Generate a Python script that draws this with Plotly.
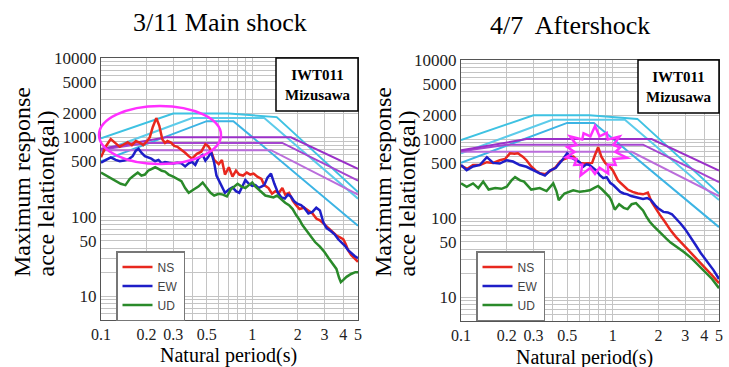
import math
import plotly.graph_objects as go

W, H = 729, 367

# ---------------- data ----------------
# Left panel: 3/11 Main shock
ms_ns_T = [0.1, 0.108, 0.116, 0.125, 0.133, 0.142, 0.15, 0.16, 0.17, 0.18, 0.19, 0.2, 0.21, 0.22, 0.232, 0.243,
           0.254, 0.265, 0.275, 0.29, 0.305, 0.32, 0.34, 0.36, 0.38, 0.4, 0.43, 0.46, 0.49, 0.51, 0.53, 0.56, 0.6,
           0.63, 0.66, 0.7, 0.74, 0.78, 0.82, 0.87, 0.92, 0.97, 1.02, 1.08, 1.15, 1.2, 1.28, 1.35, 1.42, 1.5, 1.58,
           1.65, 1.75, 1.85, 1.95, 2.05, 2.2, 2.35, 2.5, 2.65, 2.8, 3.0, 3.2, 3.4, 3.6, 3.8, 4.0, 4.15, 4.3, 4.5,
           4.75, 5.0]
ms_ns_v = [560, 780, 950, 830, 760, 820, 870, 800, 900, 860, 800, 880, 1000, 1350, 1750, 1400,
           950, 850, 900, 860, 780, 760, 700, 640, 580, 540, 620, 660, 820, 780, 700, 520, 460,
           520, 340, 420, 320, 380, 340, 330, 360, 340, 350, 320, 300, 250, 230, 195, 210, 200, 230,
           190, 200, 160, 140, 125, 130, 120, 110, 95, 90, 80, 72, 65, 58, 55, 52, 45, 38, 33,
           30, 27]

ms_ew_T = [0.1, 0.108, 0.116, 0.125, 0.133, 0.142, 0.152, 0.162, 0.17, 0.177, 0.185, 0.195, 0.205, 0.215, 0.228,
           0.24, 0.252, 0.265, 0.28, 0.3, 0.32, 0.34, 0.36, 0.38, 0.4, 0.42, 0.44, 0.47, 0.49, 0.51, 0.535, 0.56,
           0.58, 0.62, 0.66, 0.7, 0.74, 0.78, 0.82, 0.86, 0.9, 0.95, 1.0, 1.05, 1.1, 1.15, 1.2, 1.26, 1.33, 1.4,
           1.48, 1.56, 1.64, 1.72, 1.8, 1.9, 2.0, 2.1, 2.2, 2.35, 2.5, 2.65, 2.8, 2.95, 3.1, 3.3, 3.5, 3.7, 3.9,
           4.1, 4.3, 4.5, 4.75, 5.0]
ms_ew_v = [480, 520, 560, 520, 500, 510, 530, 580, 680, 720, 640, 580, 560, 540, 500,
           520, 470, 490, 480, 470, 480, 470, 430, 470, 490, 450, 540, 600, 510, 560, 650, 480,
           330, 260, 200, 220, 235, 210, 200, 240, 290, 260, 245, 250, 230, 240, 250, 310, 350, 260,
           200, 175, 170, 190, 180, 155, 145, 140, 130, 110, 115, 130, 120, 85, 72, 66, 60, 52, 47,
           43, 38, 35, 32, 30]

ms_ud_T = [0.1, 0.108, 0.116, 0.125, 0.135, 0.145, 0.155, 0.165, 0.175, 0.185, 0.195, 0.205, 0.215, 0.228, 0.24,
           0.252, 0.265, 0.28, 0.3, 0.32, 0.34, 0.36, 0.38, 0.41, 0.44, 0.47, 0.5, 0.53, 0.56, 0.6, 0.64, 0.68,
           0.72, 0.76, 0.8, 0.85, 0.9, 0.95, 1.0, 1.05, 1.1, 1.16, 1.22, 1.3, 1.38, 1.46, 1.55, 1.65, 1.75, 1.85,
           1.95, 2.05, 2.15, 2.3, 2.45, 2.6, 2.8, 3.0, 3.2, 3.4, 3.6, 3.75, 3.85, 4.0, 4.2, 4.5, 4.8, 5.0]
ms_ud_v = [360, 330, 310, 280, 260, 250, 300, 330, 360, 330, 340, 380, 400, 420, 400,
           380, 370, 340, 320, 300, 280, 230, 200, 220, 240, 270, 230, 200, 185, 195, 190, 180,
           220, 240, 260, 240, 230, 250, 270, 240, 220, 200, 185, 180, 175, 185, 165, 150, 140, 125,
           105, 92, 78, 65, 56, 48, 42, 36, 30, 26, 22, 17, 15, 16, 17.5, 19, 20, 20]

# Right panel: 4/7 Aftershock
as_ns_T = [0.1, 0.11, 0.12, 0.133, 0.148, 0.163, 0.18, 0.195, 0.21, 0.225, 0.237, 0.255, 0.27, 0.29, 0.31, 0.33,
           0.36, 0.39, 0.42, 0.45, 0.48, 0.52, 0.55, 0.58, 0.61, 0.65, 0.69, 0.73, 0.76, 0.8, 0.84, 0.89, 0.95,
           1.0, 1.08, 1.16, 1.25, 1.35, 1.46, 1.58, 1.7, 1.8, 1.92, 2.04, 2.2, 2.4, 2.6, 2.8, 3.05, 3.35, 3.7,
           4.1, 4.55, 5.0]
as_ns_v = [460, 420, 470, 470, 510, 500, 540, 560, 660, 650, 660, 600, 540, 450, 400, 370,
           360, 400, 440, 520, 560, 590, 600, 540, 500, 490, 490, 500, 620, 790, 600, 500, 450,
           400, 300, 260, 230, 215, 205, 200, 210, 160, 130, 110, 90, 70, 58, 50, 42, 34, 28,
           23, 18.5, 15]

as_ew_T = [0.1, 0.109, 0.12, 0.133, 0.148, 0.163, 0.18, 0.2, 0.22, 0.244, 0.27, 0.3, 0.33, 0.357, 0.385, 0.42,
           0.45, 0.47, 0.5, 0.52, 0.55, 0.58, 0.61, 0.64, 0.67, 0.7, 0.74, 0.78, 0.82, 0.865, 0.91, 0.96, 1.01,
           1.06, 1.12, 1.18, 1.25, 1.32, 1.4, 1.48, 1.58, 1.68, 1.78, 1.9, 2.02, 2.15, 2.3, 2.45, 2.6, 2.8, 3.0,
           3.25, 3.5, 3.8, 4.2, 4.6, 5.0]
as_ew_v = [470, 405, 450, 470, 590, 500, 490, 540, 520, 470, 446, 400, 368, 345, 400, 430,
           500, 560, 660, 620, 560, 540, 500, 450, 480, 470, 430, 400, 350, 320, 330, 280, 260,
           240, 215, 205, 200, 190, 185, 180, 175, 180, 170, 145, 130, 120, 118, 112, 100, 85, 72,
           58, 46, 36, 28, 22, 17]

as_ud_T = [0.1, 0.109, 0.12, 0.13, 0.14, 0.152, 0.168, 0.185, 0.2, 0.215, 0.227, 0.245, 0.26, 0.29, 0.33, 0.366,
           0.405, 0.425, 0.44, 0.48, 0.548, 0.607, 0.66, 0.705, 0.75, 0.8, 0.85, 0.9, 0.95, 0.98, 1.03, 1.1, 1.18,
           1.25, 1.33, 1.42, 1.5, 1.58, 1.66, 1.75, 1.85, 1.95, 2.1, 2.25, 2.4, 2.65, 2.95, 3.3, 3.7, 4.1, 4.5,
           5.0]
as_ud_v = [275, 249, 275, 240, 290, 230, 240, 235, 250, 300, 330, 300, 290, 230, 240, 220,
           275, 220, 169, 205, 225, 215, 220, 225, 240, 255, 230, 205, 185, 165, 128, 150, 135,
           130, 150, 155, 140, 125, 105, 90, 80, 72, 62, 55, 49, 43, 37, 31, 25, 20.5, 17,
           13]

# Design spectra (same on both panels)
cyan1_T = [0.1, 0.3, 0.7, 1.45, 5.0]
cyan1_v = [970, 2000, 2000, 1800, 205]
cyan2_T = [0.1, 0.4, 1.2, 5.0]
cyan2_v = [660, 1750, 1750, 169]
cyan3_T = [0.1, 0.5, 0.75, 5.0]
cyan3_v = [500, 1600, 1600, 77]
purple1_T = [0.1, 0.27, 1.8, 5.0]
purple1_v = [720, 1000, 1000, 400]
purple2_T = [0.1, 0.2, 1.58, 5.0]
purple2_v = [700, 850, 850, 285]
purple3_T = [0.1, 1.33, 5.0]
purple3_v = [690, 690, 190]

x_grid = [0.1, 0.2, 0.3, 0.4, 0.5, 0.6, 0.7, 0.8, 0.9, 1, 2, 3, 4, 5]
x_labels = ["0.1", "0.2", "0.3", "", "0.5", "", "", "", "", "1", "2", "3", "4", "5"]
y_grid = [5, 6, 7, 8, 9, 10, 20, 30, 40, 50, 60, 70, 80, 90, 100, 200, 300, 400, 500, 600, 700, 800, 900,
          1000, 2000, 3000, 4000, 5000, 6000, 7000, 8000, 9000, 10000]
y_labels_map = {10: "10", 50: "50", 100: "100", 500: "500", 1000: "1000", 2000: "2000", 5000: "5000",
                10000: "10000"}
y_labels = [y_labels_map.get(v, "") for v in y_grid]

titles = ["3/11 Main shock", "4/7  Aftershock"]
station = "<b>IWT011</b><br><b>Mizusawa</b>"

# ---------------- layout helpers (pixel geometry) ----------------
panels = [
    dict(x0=101, x1=358, y0=58, y1=320, xa="x", ya="y", legend="legend"),
    dict(x0=461, x1=719, y0=60, y1=321, xa="x2", ya="y2", legend="legend2"),
]


def px(x):
    return x / W


def py(y):
    return 1 - y / H


fig = go.Figure()

design = [
    (cyan3_T, cyan3_v, "#3cb4e4"),
    (cyan2_T, cyan2_v, "#5ccbea"),
    (cyan1_T, cyan1_v, "#3ec2e2"),
    (purple3_T, purple3_v, "#bb6ddb"),
    (purple2_T, purple2_v, "#a545d0"),
    (purple1_T, purple1_v, "#9a30c8"),
]

series = [
    [(ms_ns_T, ms_ns_v, "NS", "#e8281e"), (ms_ew_T, ms_ew_v, "EW", "#1e1ec8"), (ms_ud_T, ms_ud_v, "UD", "#2a8a2a")],
    [(as_ns_T, as_ns_v, "NS", "#e8281e"), (as_ew_T, as_ew_v, "EW", "#1e1ec8"), (as_ud_T, as_ud_v, "UD", "#2a8a2a")],
]

for i, p in enumerate(panels):
    for T, v, c in design:
        fig.add_trace(go.Scatter(x=T, y=v, mode="lines", line=dict(color=c, width=2),
                                 xaxis=p["xa"], yaxis=p["ya"], showlegend=False, hoverinfo="skip"))
    for T, v, name, c in series[i]:
        fig.add_trace(go.Scatter(x=T, y=v, mode="lines", name=name, line=dict(color=c, width=2.5),
                                 xaxis=p["xa"], yaxis=p["ya"], legend=p["legend"]))

axis_common = dict(type="log", showgrid=True, gridcolor="#c4c4c4", gridwidth=1, zeroline=False,
                   showline=True, linecolor="#555", linewidth=1, mirror=True, ticks="", automargin=False,
                   tickfont=dict(family="Liberation Serif", size=16, color="#222"))

layout = dict(width=W, height=H, margin=dict(l=0, r=0, t=0, b=0, pad=0, autoexpand=False),
              paper_bgcolor="white", plot_bgcolor="white", showlegend=True)

for i, p in enumerate(panels):
    sfx = "" if i == 0 else "2"
    layout["xaxis" + sfx] = dict(axis_common, domain=[px(p["x0"]), px(p["x1"])], range=[-1, math.log10(5)],
                                 tickvals=x_grid, ticktext=x_labels, anchor="y" + sfx)
    layout["yaxis" + sfx] = dict(axis_common, domain=[py(p["y1"]), py(p["y0"])],
                                 range=[math.log10(5), 4], tickvals=y_grid, ticktext=y_labels,
                                 anchor="x" + sfx, tickfont=dict(family="Liberation Serif", size=17,
                                                                 color="#222"))
    layout[p["legend"]] = dict(x=px(p["x0"] + 15), y=py(251), xanchor="left", yanchor="top",
                               bgcolor="white", bordercolor="#777", borderwidth=1.5,
                               font=dict(family="Liberation Sans", size=12, color="#444"),
                               tracegroupgap=0, itemwidth=30)

fig.update_layout(**layout)

# ---------------- annotations ----------------
serif = "Liberation Serif"


def label(text, cx, cy, size, angle=0, color="black"):
    fig.add_annotation(text=text, x=px(cx), y=py(cy), xref="paper", yref="paper", showarrow=False,
                       xanchor="center", yanchor="middle", textangle=angle,
                       font=dict(family=serif, size=size, color=color))


title_pos = [(220, 22), (570, 25)]
for (cx, cy), t in zip(title_pos, titles):
    label(t, cx, cy, 26)

ylab_pos = [((22, 182), (46, 193.5)), ((383, 182), (407, 193.5))]
for (l1, l2) in ylab_pos:
    label("Maximum response", l1[0], l1[1], 24, -90)
    label("acce lelation(gal)", l2[0], l2[1], 24, -90)

xlab_pos = [(228, 355), (584, 357)]
for cx, cy in xlab_pos:
    label("Natural period(s)", cx, cy, 20)

# station boxes
boxes = [(276, 358, 58, 111), (638, 719, 60, 113)]
for bx0, bx1, by0, by1 in boxes:
    fig.add_shape(type="rect", xref="paper", yref="paper", x0=px(bx0), x1=px(bx1), y0=py(by1), y1=py(by0),
                  line=dict(color="black", width=1.5), fillcolor="white", layer="above")
    label(station, (bx0 + bx1) / 2, (by0 + by1) / 2, 15)

# magenta ellipse (left) and burst (right) highlights
fig.add_shape(type="circle", xref="paper", yref="paper", x0=px(99), x1=px(221), y0=py(164), y1=py(106),
              line=dict(color="#ff30ff", width=2.5), layer="above")

cx, cy, rx, ry = 595, 152, 33, 26
spikes = [1.0, 0.82, 0.95, 0.78, 1.0, 0.8, 0.92, 0.84, 1.0, 0.8, 0.9, 0.86, 0.97, 0.8]
pts = []
n = len(spikes)
for k in range(n):
    a = 2 * math.pi * k / n - math.pi / 2
    pts.append((cx + rx * spikes[k] * math.cos(a), cy + ry * spikes[k] * math.sin(a)))
    a2 = a + math.pi / n
    pts.append((cx + rx * 0.62 * math.cos(a2), cy + ry * 0.62 * math.sin(a2)))
path = "M " + " L ".join(f"{px(x):.5f},{py(y):.5f}" for x, y in pts) + " Z"
fig.add_shape(type="path", xref="paper", yref="paper", path=path,
              line=dict(color="#ff30ff", width=2.5), layer="above")

fig.write_html("out.html", config={"displayModeBar": False},
               post_script="document.body.style.margin='0';document.body.style.overflow='hidden';")
